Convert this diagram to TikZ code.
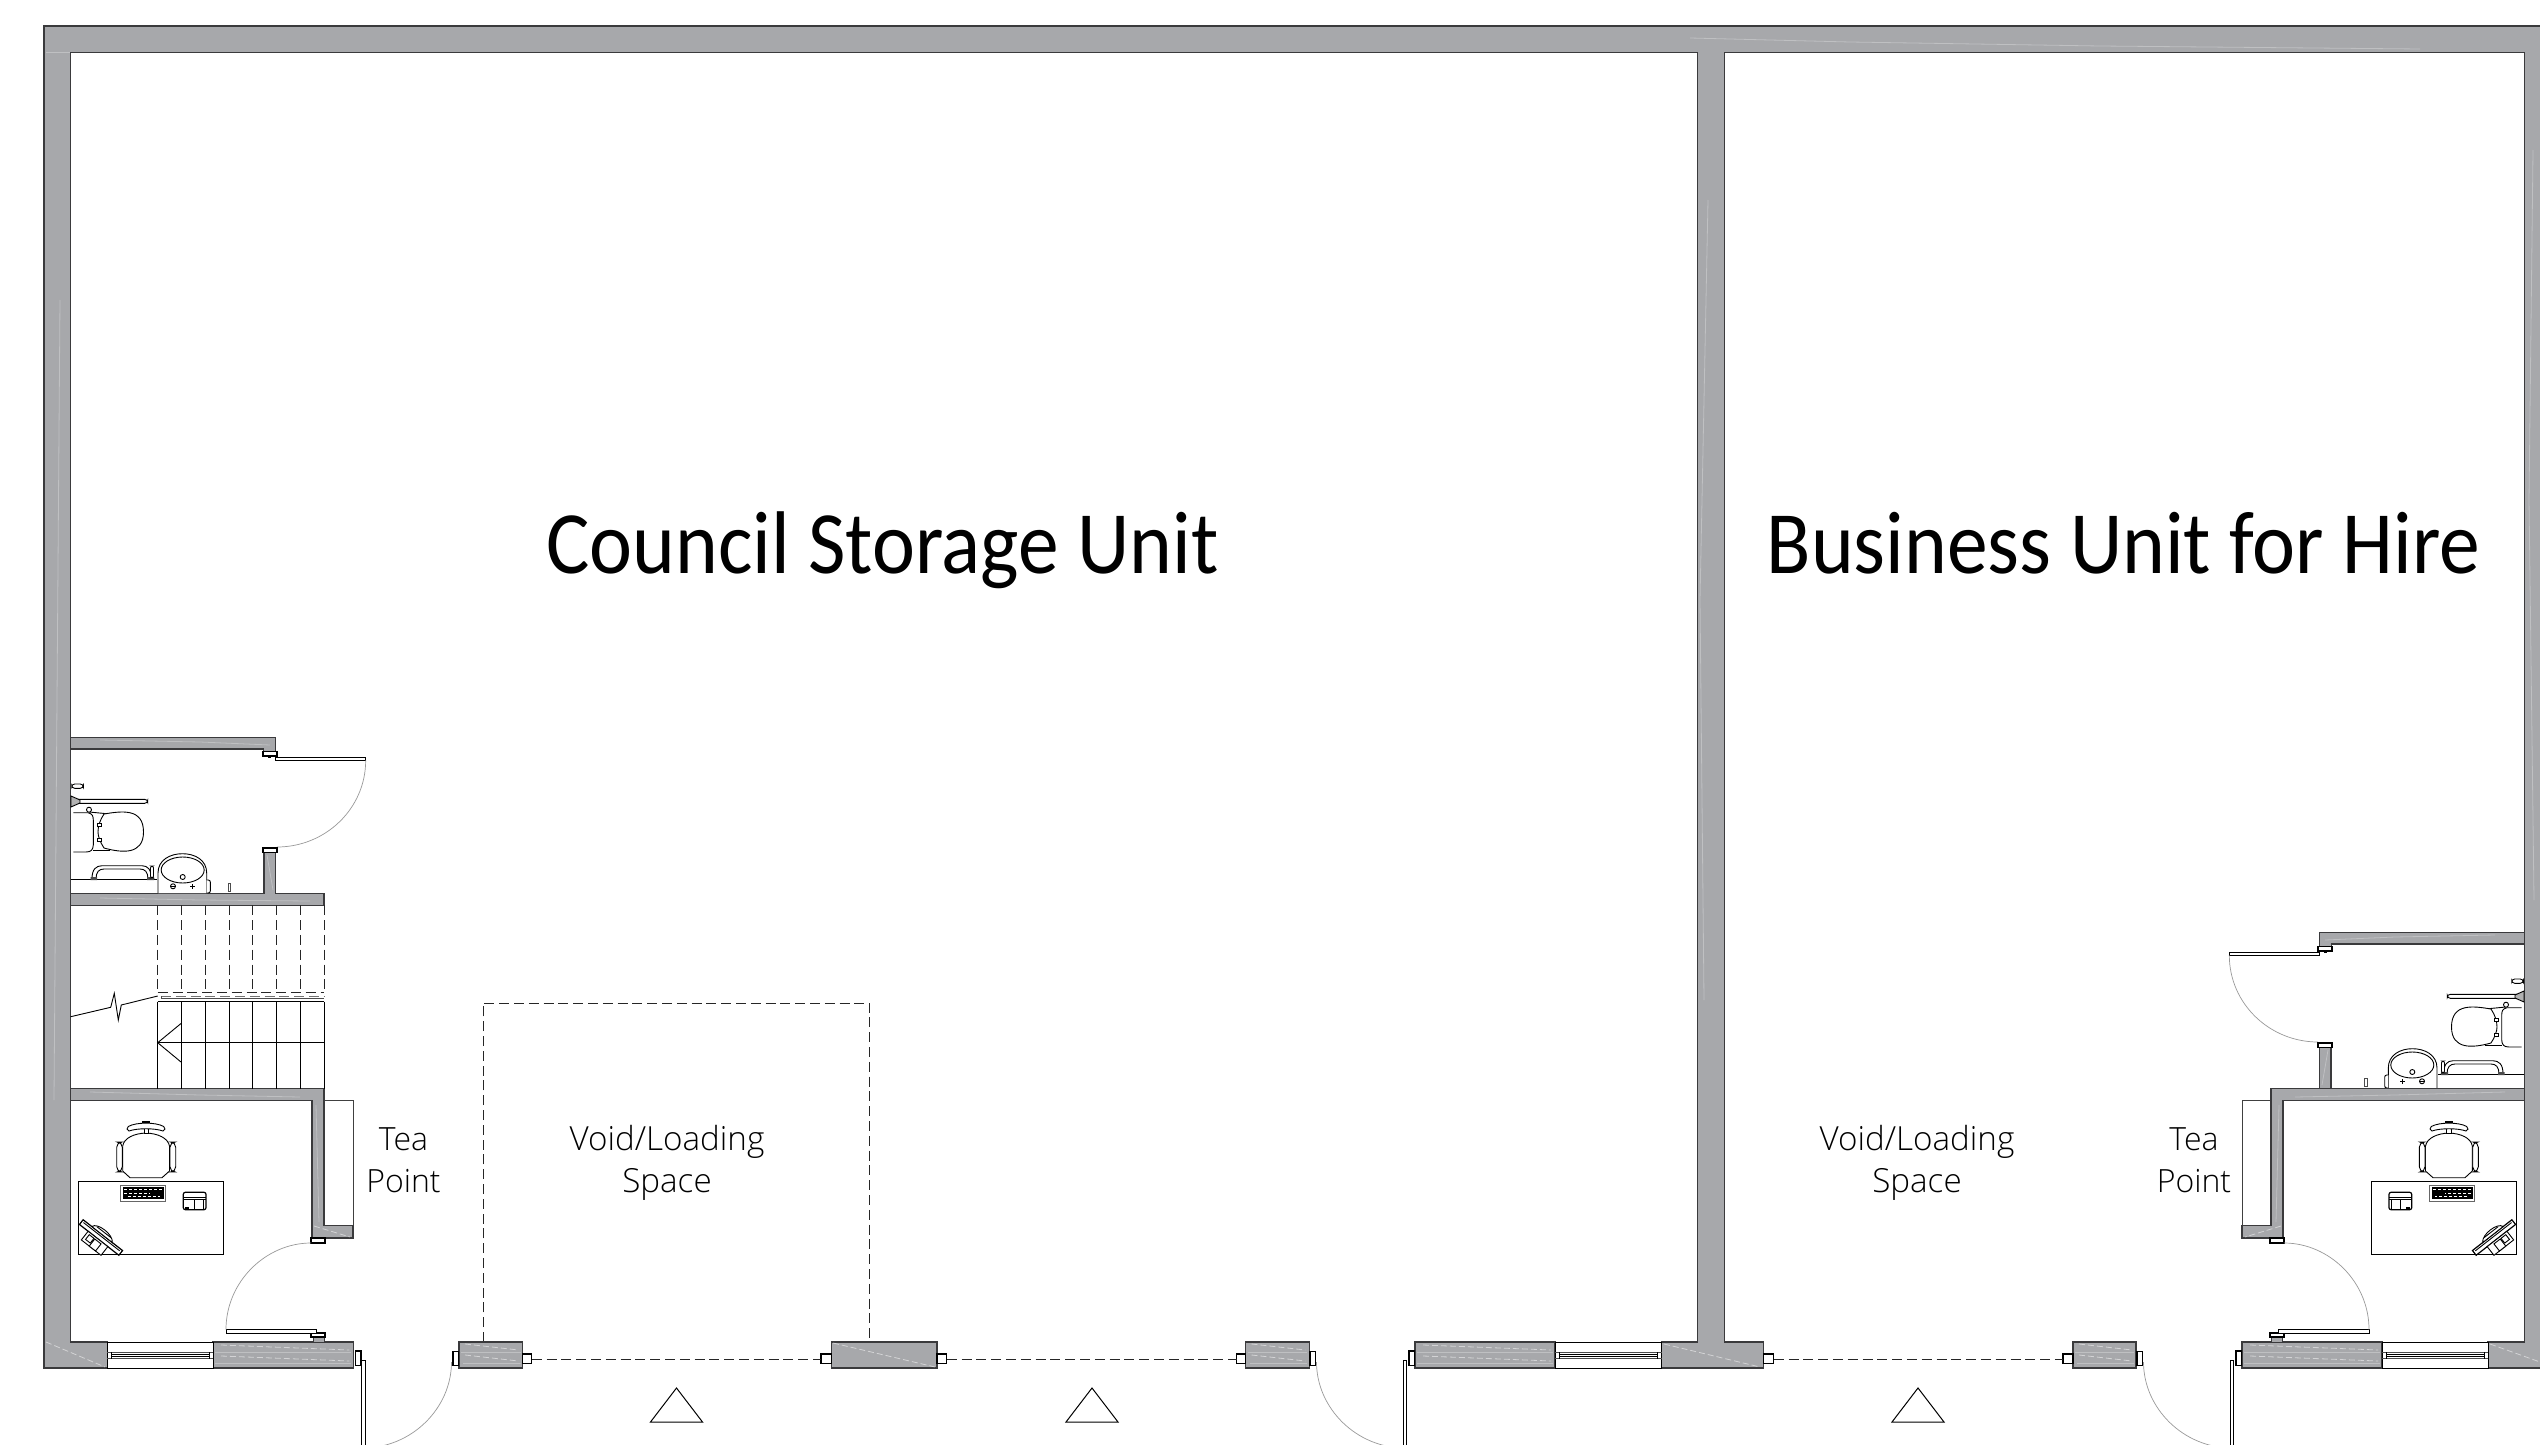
\documentclass[tikz,border=0pt]{standalone}
\usepackage{fontspec}
\setmainfont{Carlito}
\newfontfamily\labelfont{Open Sans Light}
\definecolor{wallgray}{HTML}{A7A8AB}
\definecolor{walledge}{HTML}{3A3A3C}
\tikzset{
  wall/.style={fill=wallgray,draw=walledge,line width=0.6pt,line join=miter},
  streak/.style={draw=white,opacity=0.28,line width=0.4pt},
  dstreak/.style={draw=white,opacity=0.5,line width=0.4pt,dash pattern=on 3pt off 1.5pt},
  glass/.style={fill=white,draw=black,line width=0.5pt},
  fix/.style={draw=black,line width=0.45pt,fill=white},
  thin line/.style={draw=black,line width=0.45pt},
  swing/.style={draw=black!40,line width=0.35pt},
  hiddenline/.style={draw=black!85,line width=0.5pt,dash pattern=on 5pt off 2.4pt},
  leaf/.style={fill=white,draw=black,line width=0.5pt},
  hingecap/.style={fill=white,draw=black,line width=0.7pt},
  bigtext/.style={font=\fontsize{44.5}{50}\selectfont,inner sep=0pt,text=black},
  smalltext/.style={font=\labelfont\fontsize{16}{20.8}\selectfont,align=center,inner sep=0pt,text=black},
  voidtext/.style={font=\labelfont\fontsize{16.6}{20.8}\selectfont,align=center,inner sep=0pt,text=black},
}
% window set in the outer wall
\newcommand{\windowunit}[2]{%
  \draw[glass] (#1,1342) rectangle (#2,1368);
  \draw[thin line,draw=black!70] (#1,1352) -- (#2,1352) (#1,1358.5) -- (#2,1358.5);
  \fill[white] (#1+1,1353.5) rectangle (#2-1,1356);
  \draw[thin line] (#1+4,1352) -- (#1+4,1358.5) (#2-4,1352) -- (#2-4,1358.5);
  \draw[thin line] (#1+4,1354) -- (#2-4,1354) (#1+4,1356.5) -- (#2-4,1356.5);
}
% office block: partition, tea point, door, desk, chair
\newcommand{\officekit}{%
  \draw[fix,draw=black!75] (323.7,1100.5) rectangle (353,1226);
  \draw[wall] (70.7,1088.5) -- (324,1088.5) -- (324,1225.7) -- (353,1225.7) -- (353,1238) -- (312,1238) -- (312,1100.5) -- (70.7,1100.5) -- cycle;
  \draw[streak] (90,1092) -- (200,1095) -- (300,1097);
  \draw[streak] (316,1105) -- (319,1222);
  \draw[dstreak] (314,1226) -- (350,1237);
  % door
  \draw[hingecap] (311,1238) rectangle (325,1243);
  \draw[wall,line width=0.4pt] (313,1337) rectangle (324,1342);
  \draw[hingecap] (311,1333) rectangle (325,1337);
  \draw[leaf] (226,1329.5) -- (316.7,1329.5) -- (316.7,1333.5) -- (226,1333.5) -- cycle;
  \draw[swing] (226,1329.5) .. controls (226,1281.5) and (266,1243) .. (311,1243);
  % desk
  \draw[fix] (78.3,1181.7) rectangle (223.7,1254.3);
  % keyboard
  \draw[fix,draw=black!60] (120.7,1185) rectangle (165.3,1201.3);
  \fill[black] (122.5,1187) rectangle (163.5,1199);
  \draw[white,line width=0.35pt,dash pattern=on 1.5pt off 1pt] (124,1189.5) -- (162,1189.5) (124,1193) -- (150,1193) (128,1196.5) -- (160,1196.5);
  % printer
  \draw[fix,rounded corners=1pt,line width=0.6pt] (183.3,1192.3) rectangle (206,1209.7);
  \draw[thin line] (183.3,1197) -- (206,1197) (183.3,1199.5) -- (206,1199.5);
  \draw[thin line] (194.5,1199.5) rectangle (203.5,1209.7);
  \fill[black] (185,1207) rectangle (189,1209.7);
  % chair
  \draw[fix] (122.7,1146) .. controls (124,1138) and (134,1133.5) .. (146,1133) .. controls (158,1133.5) and (168,1138) .. (169.5,1146) -- (169.5,1171) -- (162,1177.7) -- (130,1177.7) -- (122.7,1171) -- cycle;
  \draw[fix,rounded corners=2.6pt] (116.7,1142) rectangle (122.3,1172);
  \draw[fix,rounded corners=2.6pt] (170,1142) rectangle (175.7,1172);
  \draw[fix] (144,1127) rectangle (148.7,1133);
  \draw[fix] (128.3,1126.5) .. controls (136,1122) and (156,1122) .. (163.7,1126.5) .. controls (165.5,1128) and (165.5,1130.5) .. (163,1131) .. controls (155,1128) and (137,1128) .. (129,1131) .. controls (126.5,1130.5) and (126.5,1128) .. (128.3,1126.5) -- cycle;
  \fill[black] (142,1121.3) rectangle (150,1122.8);
  % telephone
  \begin{scope}[shift={(101,1237.5)},rotate=-38]
    \draw[fix,line width=0.6pt] (-25,-3) rectangle (25,3);
    \draw[thin line] (-23,-1) -- (23,-1);
    \draw[fix] (-14,-3) .. controls (-12,-10) and (8,-10) .. (12,-3) -- cycle;
    \draw[thin line] (-10,-6) -- (8,-6);
    \draw[fix] (-14,3) rectangle (11,14);
    \draw[fix] (-4,5) rectangle (4,14);
    \draw[fix] (-11,5) rectangle (-5,11);
  \end{scope}
}
% WC block: walls, door, toilet, rails, basin
\newcommand{\wckit}{%
  \draw[wall] (70.7,737.3) -- (275.7,737.3) -- (275.7,756) -- (263.5,756) -- (263.5,749) -- (70.7,749) -- cycle;
  \draw[streak] (100,740) -- (200,742) -- (270,745);
  \draw[hingecap,line width=0.6pt] (263,751.5) rectangle (277,756);
  \fill[black] (268,756) rectangle (271,758);
  \draw[leaf] (275.7,757.7) rectangle (365.7,760.3);
  \draw[swing] (365.7,760.3) .. controls (365.7,808.7) and (325.4,847) .. (277,847);
  \draw[wall] (70.7,893.3) -- (264,893.3) -- (264,848) -- (275.5,848) -- (275.5,893.3) -- (324,893.3) -- (324,905.3) -- (70.7,905.3) -- cycle;
  \draw[streak] (100,898) -- (200,900) -- (310,901);
  \draw[streak] (267,855) -- (273,890);
  \draw[hingecap] (263,848) rectangle (277,852.5);
  \fill[black] (268,846.5) rectangle (271,848);
  % wall-side rails
  \draw[fix,rounded corners=1.5pt] (71.7,784) rectangle (83.3,788.3);
  \draw[fix,rounded corners=1.5pt] (71.5,799.3) rectangle (147.7,803.3);
  \draw[fix,fill=black!30] (71,796) -- (80,800) -- (80,803) -- (71,807) -- cycle;
  % toilet
  \draw[fix] (73.3,812.7) -- (88,812.7) .. controls (93,814) and (93,816) .. (93.3,820) -- (93.3,845) .. controls (93,850) and (91,852) .. (86,852) -- (73.3,852);
  \draw[thin line] (89,812) -- (110,814);
  \draw[thin line] (93,850) -- (110,850);
  \draw[fix] (104,814) .. controls (122,811) and (143.5,808) .. (143.5,832) .. controls (143.5,855) and (122,853) .. (104,848) .. controls (100,842) and (98,836) .. (98,832) .. controls (98,826) and (100,820) .. (104,814) -- cycle;
  \draw[fix] (89,809.7) circle[radius=2.5];
  \draw[fix] (97,823) rectangle (101,826);
  \draw[fix] (97,838) rectangle (101,841);
  % floor-side rail
  \draw[thin line] (70.7,879) -- (157,879);
  \draw[thin line] (92,879) .. controls (92,869) and (96,866) .. (102,865.7) -- (142,865.7) .. controls (148,866) and (151,869) .. (151.5,879);
  \draw[thin line] (96,879) .. controls (96,872) and (99,869) .. (104,869) -- (140,869) .. controls (145,869) and (148,872) .. (148,879);
  \fill[black!70] (90.5,877) rectangle (97,880) (147,877) rectangle (154,880);
  \draw[fix,rounded corners=1pt] (150.5,866) rectangle (153.5,878);
  % basin
  \draw[fix] (158,893) -- (158,873) .. controls (158,860) and (170,853.7) .. (182.5,853.7) .. controls (195,853.7) and (206.7,860) .. (206.7,873) -- (206.7,893);
  \draw[thin line] (182.7,870) ellipse[x radius=21.5,y radius=13];
  \draw[fix] (182.7,877) circle[radius=2.5];
  \draw[thin line] (173,886.3) circle[radius=2.5];
  \draw[thin line] (170.5,886.3) -- (175.5,886.3);
  \draw[thin line] (190,886.3) -- (194.6,886.3) (192.3,884) -- (192.3,888.6);
  \draw[fix,rounded corners=1pt] (206.7,880) -- (210.3,880) -- (210.3,893) -- (206.7,893);
  \draw[fix,draw=black!70] (228,883.7) rectangle (230.8,891.5);
}
\begin{document}
\begin{tikzpicture}[x=0.5pt,y=-0.5pt]
\path[use as bounding box,clip] (0,0) rectangle (2540,1445);
\fill[white] (0,0) rectangle (2540,1445);

% dashed void outline
\draw[hiddenline] (483,1342) -- (483,1003) -- (869.6,1003) -- (869.6,1342);

% outer shell
\draw[wall] (107.3,1368) -- (44,1368) -- (44,26) -- (2545,26) -- (2545,1368) -- (2488,1368) -- (2488,1342) -- (2524.5,1342) -- (2524.5,52.5) -- (1724.5,52.5) -- (1724.5,1342) -- (1763.8,1342) -- (1763.8,1368) -- (1661.6,1368) -- (1661.6,1342) -- (1697.8,1342) -- (1697.8,52.5) -- (70.7,52.5) -- (70.7,1342) -- (107.3,1342) -- cycle;
\draw[streak] (46,52) -- (70,52);
\draw[streak] (1690,38) -- (1850,42) -- (2100,46) -- (2420,49);
\draw[streak] (1708,200) -- (1700,600) -- (1704,1000);
\draw[streak] (2533,150) -- (2529,500) -- (2534,900);
\draw[streak] (60,300) -- (57,700) -- (54,1100);
\draw[dstreak] (46,1342) -- (105,1367);
\draw[dstreak] (1664,1344) -- (1760,1367);
\draw[dstreak] (2490,1344) -- (2540,1362);

% piers of the front elevation
\foreach \xa/\xb/\nm in {213/353.3/a,1415/1555/b,2242/2382/c}{
  \draw[wall] (\xa,1342) rectangle (\xb,1368);
  \draw[streak] (\xa+2,1352) -- (\xb-2,1352);
  \draw[streak] (\xa+2,1363) -- (\xb-2,1363);
  \draw[dstreak] (\xa+8,1345) -- (\xb-4,1350);
  \draw[dstreak] (\xa+8,1356) -- (\xb-4,1361);
}
\foreach \xa/\xb in {459/522.5,1245.5/1309.4,2073/2136}{
  \draw[wall] (\xa,1342) rectangle (\xb,1368);
  \draw[streak] (\xa+2,1352) -- (\xb-2,1352);
  \draw[streak] (\xa+4,1363) -- (\xb-2,1363);
  \draw[dstreak] (\xa+6,1344) -- (\xb-4,1350);
  \draw[dstreak] (\xa+6,1355) -- (\xb-4,1361);
}
\draw[wall] (831.4,1342) rectangle (937,1368);
\draw[dstreak] (833,1343) -- (935,1367);

% windows
\windowunit{107.3}{213}
\windowunit{1555}{1661.6}
\windowunit{2382}{2488}

% jamb blocks and sliding-door line
\foreach \xa/\xb in {522.5/531.8,821/831.4,937/946.8,1236.6/1245.5,1763.8/1773.7,2063/2073}{
  \draw[glass,line width=0.55pt] (\xa,1354) rectangle (\xb,1363.5);
}
\draw[hiddenline] (531.8,1359) -- (821,1359);
\draw[hiddenline] (946.8,1359) -- (1236.6,1359);
\draw[hiddenline] (1773.7,1359) -- (2063,1359);

% entrance triangles
\foreach \cx in {676.5,1092,1918}{
  \draw[thin line,line width=0.5pt,line join=miter] (\cx,1388) -- (\cx+26,1422) -- (\cx-26,1422) -- cycle;
}

% entrance doors
\draw[leaf] (361.7,1360) rectangle (365,1450);
\draw[hingecap] (355.5,1351) rectangle (361,1365.5);
\draw[hingecap] (453,1351.5) rectangle (458.5,1365.5);
\draw[swing] (451.5,1362) .. controls (451.5,1408.4) and (411.4,1448) .. (363,1448);

\draw[leaf] (1403.6,1360) rectangle (1406.7,1450);
\draw[hingecap] (1409,1351) rectangle (1414.5,1365.5);
\draw[hingecap] (1310,1351.5) rectangle (1315.5,1365.5);
\draw[swing] (1316.5,1362) .. controls (1316.5,1408.4) and (1356.6,1448) .. (1405,1448);

\draw[leaf] (2230.7,1360) rectangle (2233.8,1450);
\draw[hingecap] (2236,1351) rectangle (2241.5,1365.5);
\draw[hingecap] (2137,1351.5) rectangle (2142.5,1365.5);
\draw[swing] (2143.5,1362) .. controls (2143.5,1408.4) and (2183.6,1448) .. (2232,1448);

% left block
\wckit
\officekit

% stairs
\foreach \sx in {157.7,181,205,229,252.7,276.7,300.3,324}{
  \draw[hiddenline] (\sx,905.3) -- (\sx,992.3);
  \draw[thin line] (\sx,1001.7) -- (\sx,1088.5);
}
\draw[hiddenline] (157.7,992.3) -- (324,992.3);
\draw[hiddenline,draw=black!55] (161,996.5) -- (324,996.5);
\draw[thin line,draw=black!70] (161,996) -- (161,998.8) -- (324,998.8);
\draw[thin line] (157.7,1001.7) -- (324,1001.7);
\draw[thin line] (157.7,1042.7) -- (324,1042.7);
\draw[thin line] (181,1023.5) -- (157.7,1042.7) -- (181,1062);
\draw[thin line] (70.7,1016.7) -- (110.7,1007.3) -- (114.3,993.3) -- (118.3,1020) -- (121.3,1005) -- (157.7,996);

% right block, mirrored
\begin{scope}[shift={(2595,195)},xscale=-1]
  \wckit
\end{scope}
\begin{scope}[shift={(2595,0)},xscale=-1]
  \officekit
\end{scope}

% texts
\node[bigtext,xscale=0.915,anchor=base] (storage) at (882.5,573) {Council Storage Unit};
\node[bigtext,xscale=0.916,anchor=base] (hire) at (2123.5,573) {Business Unit for Hire};
\node[voidtext] (voidA) at (667,1163) {Void/Loading\\Space};
\node[voidtext] (voidB) at (1917,1163) {Void/Loading\\Space};
\node[smalltext] (teaA) at (403.5,1160.5) {Tea\\Point};
\node[smalltext] (teaB) at (2194,1160.5) {Tea\\Point};
\end{tikzpicture}
\end{document}
